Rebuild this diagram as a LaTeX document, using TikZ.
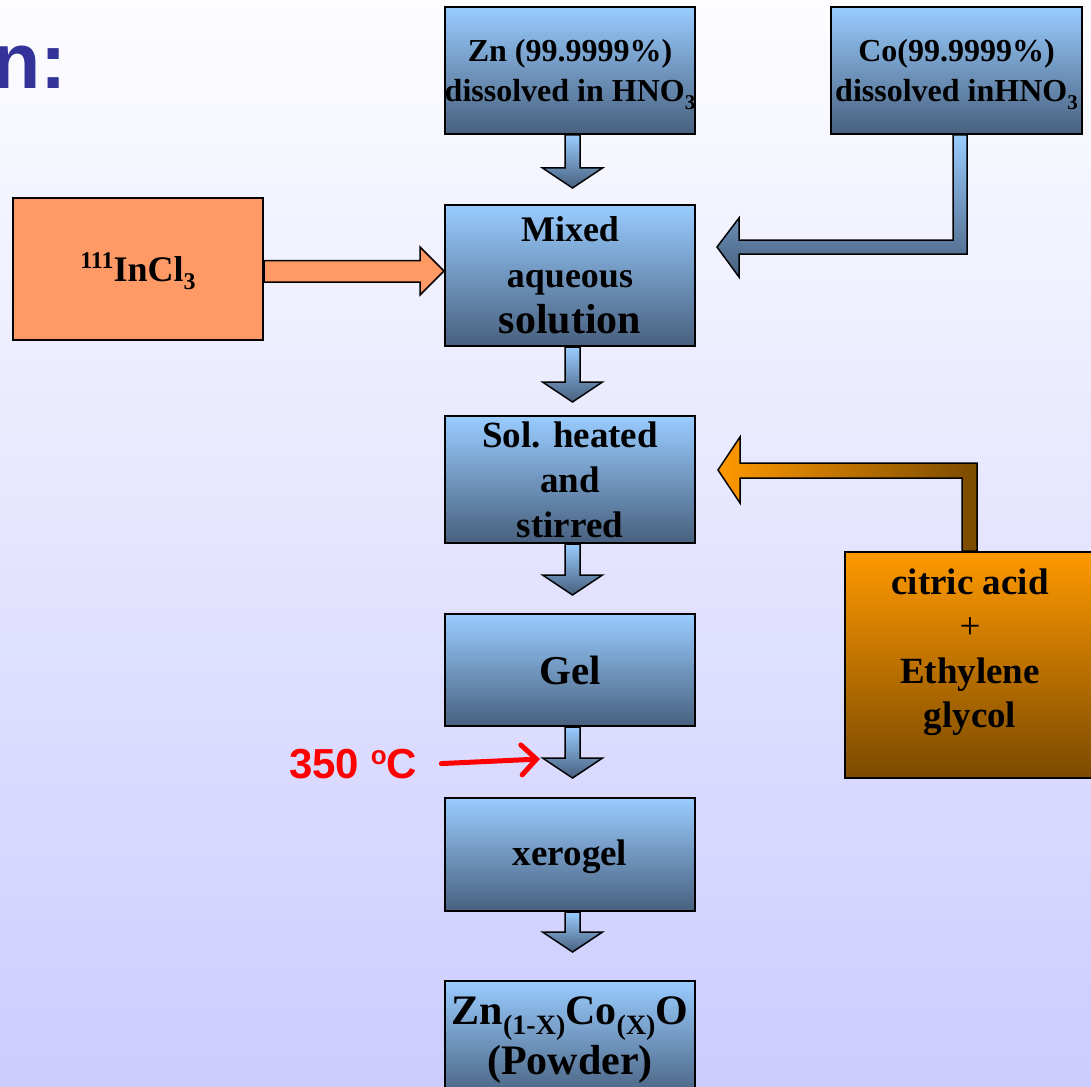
\documentclass[tikz,border=0pt]{standalone}
\usepackage{fontspec}
\setmainfont{Liberation Serif}
\newfontfamily\arialfont{Liberation Sans}
\usetikzlibrary{arrows.meta,calc}
\definecolor{bgtop}{RGB}{253,253,255}
\definecolor{bgbot}{RGB}{204,204,255}
\definecolor{bluetop}{RGB}{153,204,255}
\definecolor{bluebot}{RGB}{72,96,126}
\definecolor{inclcol}{RGB}{255,153,102}
\definecolor{orangetop}{RGB}{255,153,0}
\definecolor{orangebot}{RGB}{122,74,0}
\definecolor{titleblue}{RGB}{51,51,153}
\definecolor{redcol}{RGB}{255,0,0}
\newcommand\subtxt[3]{\smash{\raisebox{-#1pt}{\fontsize{#2}{#2}\selectfont #3}}}
\newcommand\suptxt[3]{\smash{\raisebox{#1pt}{\fontsize{#2}{#2}\selectfont #3}}}
% block arrow pointing down: source, target, gap of tip above target
\newcommand\blockdown[3]{%
  \path[bluearrow] let \p1=(#1.south), \p2=(#2.north) in
    (\x1-5pt,\y1) -- (\x1-5pt,\y2+#3pt+20pt) -- (\x1-27.5pt,\y2+#3pt+20pt)
    -- (\x1+2.5pt,\y2+#3pt) -- (\x1+32.5pt,\y2+#3pt+20pt)
    -- (\x1+10pt,\y2+#3pt+20pt) -- (\x1+10pt,\y1) -- cycle;}
\begin{document}
\begin{tikzpicture}[x=1pt,y=-1pt,
  bluebox/.style={draw=black, line width=2pt, top color=bluetop, bottom color=bluebot,
    minimum width=250pt, align=center, inner sep=0pt, text=black},
  bluearrow/.style={draw=black, line width=1.5pt, line join=miter, top color=bluetop, bottom color=bluebot},
  orangearrow/.style={draw=black, line width=1.5pt, line join=miter, left color=orangetop, right color=orangebot},
  inclarrow/.style={draw=black, line width=1.5pt, line join=miter, fill=inclcol},
  redarrow/.style={draw=redcol, line width=5pt, line cap=round, -{Straight Barb[length=15pt,width=30pt,line cap=round]}}
]
\useasboundingbox (0,0) rectangle (1091,1086);
\clip (0,0) rectangle (1091,1086);
\shade[top color=bgtop, bottom color=bgbot] (0,0) rectangle (1091,1086);

% title fragment
\node[anchor=base east, inner sep=0pt, text=titleblue,
  font=\arialfont\bfseries\fontsize{79}{79}\selectfont] (title) at (67,89) {n:};

% boxes
\node[bluebox, minimum height=127pt, font=\fontsize{32}{40}\selectfont\bfseries] (zn) at (570,70.5)
  {Zn (99.9999\%)\\dissolved in HNO\subtxt{8}{21}{3}};
\node[bluebox, minimum width=251pt, minimum height=127pt, font=\fontsize{32}{40}\selectfont\bfseries] (co) at (956.5,70.5)
  {Co(99.9999\%)\\dissolved inHNO\subtxt{8}{21}{3}};
\node[bluebox, minimum height=141pt, font=\fontsize{36}{46}\selectfont\bfseries] (mix) at (570,275.5)
  {Mixed\\aqueous\\{\fontsize{42}{46}\selectfont solution}};
\node[draw=black, line width=2pt, fill=inclcol, minimum width=250pt, minimum height=142pt,
  inner sep=0pt, font=\fontsize{36}{40}\selectfont\bfseries] (incl) at (138,269)
  {\suptxt{13}{24}{111}InCl\subtxt{8}{24}{3}};
\node[bluebox, minimum height=127pt, font=\fontsize{37}{45}\selectfont\bfseries] (sol) at (570,479.5)
  {Sol. heated\\and\\stirred};
\node[bluebox, minimum height=112pt, font=\fontsize{41}{45}\selectfont\bfseries] (gel) at (570,670) {Gel};
\node[bluebox, minimum height=113pt, text height=30pt, font=\fontsize{37}{45}\selectfont\bfseries] (xero) at (570,854.5) {xerogel};
\node[bluebox, minimum height=118pt, font=\fontsize{42}{50}\selectfont\bfseries] (final) at (570,1040)
  {Zn\subtxt{10}{28}{(1-X)}Co\subtxt{10}{28}{(X)}O\\(Powder)};
\node[draw=black, line width=2pt, top color=orangetop, bottom color=orangebot,
  minimum width=250pt, minimum height=226pt] (citric) at (970,665) {};
\node[align=center, inner sep=0pt, font=\fontsize{37}{44.5}\selectfont\bfseries] (citrictxt) at (970,652)
  {citric acid\\{\mdseries +}\\Ethylene\\glycol};

% vertical block arrows
\blockdown{zn}{mix}{16}
\blockdown{mix}{sol}{13}
\blockdown{sol}{gel}{18}
\blockdown{gel}{xero}{19}
\blockdown{xero}{final}{28}

% InCl3 -> mixed
\path[inclarrow] let \p1=(incl.east), \p2=(mix.west) in
  (\x1,\y1+8.5pt) -- (\x2-24pt,\y1+8.5pt) -- (\x2-24pt,\y1+22pt) -- (\x2,\y1-2pt)
  -- (\x2-24pt,\y1-26pt) -- (\x2-24pt,\y1-13pt) -- (\x1,\y1-13pt) -- cycle;

% Co -> mixed
\path[bluearrow] let \p1=(co.south), \p2=(mix.east) in
  (\x1-3.5pt,\y1) -- (\x1-3.5pt,\y2+35.5pt) -- (\x2+43pt,\y2+35.5pt) -- (\x2+43pt,\y2+57.5pt)
  -- (\x2+21pt,\y2+28.5pt) -- (\x2+43pt,\y2-1.5pt) -- (\x2+43pt,\y2+21.5pt)
  -- (\x1+10.5pt,\y2+21.5pt) -- (\x1+10.5pt,\y1) -- cycle;

% citric -> sol
\path[orangearrow] let \p1=(citric.north), \p2=(sol.east) in
  (\x1-8pt,\y1) -- (\x1-8pt,\y2+1.5pt) -- (\x2+44pt,\y2+1.5pt) -- (\x2+44pt,\y2-23.5pt)
  -- (\x2+22pt,\y2+9.5pt) -- (\x2+44pt,\y2+42.5pt) -- (\x2+44pt,\y2+16.5pt)
  -- (\x1+7pt,\y2+16.5pt) -- (\x1+7pt,\y1) -- cycle;

% temperature
\node[anchor=base west, inner sep=0pt, text=redcol,
  font=\arialfont\bfseries\fontsize{42}{42}\selectfont] (t350) at (289,778)
  {350 \suptxt{14}{26}{o}C};
\coordinate (redtip) at (540,759);
\draw[redarrow] ($(t350.east)+(24,0)$) -- (redtip);
\end{tikzpicture}
\end{document}
